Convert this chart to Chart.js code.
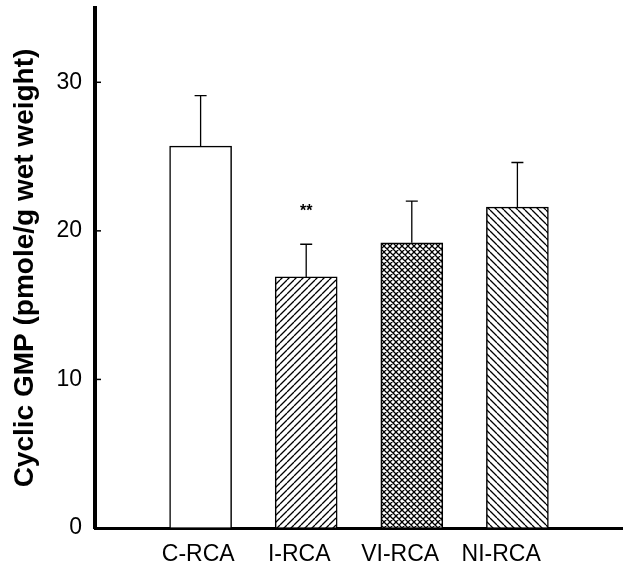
<!DOCTYPE html>
<html>
<head>
<meta charset="utf-8">
<script src="https://cdn.jsdelivr.net/npm/chart.js@4"></script>
<style>
html, body { margin: 0; padding: 0; background: #fff; }
#wrap { width: 623px; height: 564px; }
</style>
</head>
<body>
<div id="wrap"><canvas id="gmpChart"></canvas></div>
<script>
// Data
const groups = ['C-RCA', 'I-RCA', 'VI-RCA', 'NI-RCA'];
const groupPos = [1, 2, 3, 4];
const meanValues = [25.7, 16.9, 19.2, 21.6];
const errorTops = [29.1, 19.1, 22.0, 24.6];
const marks = ['', '**', '', ''];
const yTicks = [0, 10, 20, 30];

Chart.defaults.font.family = "'Liberation Sans', Arial, Helvetica, sans-serif";
Chart.defaults.color = '#000';

// hatch fills: 'fwd' = ////, 'back' = \\\\, 'cross' = both
function hatch(kind, s) {
    const c = document.createElement('canvas');
    c.width = s; c.height = s;
    const g = c.getContext('2d');
    g.fillStyle = '#fff';
    g.fillRect(0, 0, s, s);
    g.strokeStyle = '#000';
    g.lineWidth = 1.3;
    g.beginPath();
    for (const k of [-s, 0, s]) {
        if (kind === 'fwd' || kind === 'cross') {
            g.moveTo(k, s); g.lineTo(k + s, 0);
        }
        if (kind === 'back' || kind === 'cross') {
            g.moveTo(k, 0); g.lineTo(k + s, s);
        }
    }
    g.stroke();
    return g.createPattern(c, 'repeat');
}

const fills = ['#fff', hatch('fwd', 7), hatch('cross', 6), hatch('back', 7)];

// upper error bars, "**" marks and inward y ticks
const extras = {
    id: 'extras',
    afterDatasetsDraw(chart) {
        const ctx = chart.ctx;
        const y = chart.scales.y;
        const bars = chart.getDatasetMeta(0).data;
        ctx.save();
        ctx.strokeStyle = '#000';
        ctx.lineWidth = 1.3;
        bars.forEach((bar, i) => {
            const top = y.getPixelForValue(errorTops[i]);
            ctx.beginPath();
            ctx.moveTo(bar.x, bar.y);
            ctx.lineTo(bar.x, top);
            ctx.moveTo(bar.x - 6, top);
            ctx.lineTo(bar.x + 6, top);
            ctx.stroke();
            if (marks[i]) {
                ctx.fillStyle = '#000';
                ctx.font = "bold 16px 'Liberation Sans', Arial, sans-serif";
                ctx.textAlign = 'center';
                ctx.textBaseline = 'middle';
                ctx.fillText(marks[i], bar.x, top - 33);
            }
        });
        ctx.lineWidth = 1.5;
        yTicks.forEach(v => {
            const py = y.getPixelForValue(v);
            ctx.beginPath();
            ctx.moveTo(chart.chartArea.left, py);
            ctx.lineTo(chart.chartArea.left + 6, py);
            ctx.stroke();
        });
        ctx.restore();
    }
};

const gmpChart = new Chart(document.getElementById('gmpChart'), {
    type: 'bar',
    data: {
        datasets: [{
            data: groupPos.map((p, i) => ({ x: p, y: meanValues[i] })),
            backgroundColor: fills,
            borderColor: '#000',
            borderWidth: 1.5,
            barThickness: 62
        }]
    },
    options: {
        responsive: true,
        maintainAspectRatio: false,
        animation: false,
        layout: { padding: { top: 8, right: 0, bottom: 0, left: 0 } },
        plugins: {
            legend: { display: false },
            tooltip: { enabled: false }
        },
        scales: {
            x: {
                type: 'linear',
                position: 'bottom',
                weight: 0,
                offset: false,
                min: 0,
                max: 5,
                grid: { display: true, offset: false, drawOnChartArea: false, drawTicks: false },
                border: { display: true, width: 3, color: '#000' },
                ticks: { display: false },
                afterFit: s => { s.height = 6; s.paddingLeft = 0; s.paddingRight = 0; }
            },
            x2: {
                type: 'linear',
                position: 'bottom',
                weight: 1,
                offset: false,
                min: -0.022,
                max: 5.206,
                grid: { display: false, offset: false, drawTicks: false },
                border: { display: false },
                afterBuildTicks: s => { s.ticks = groupPos.map(v => ({ value: v })); },
                ticks: {
                    callback: v => groups[groupPos.indexOf(v)] || '',
                    font: { size: 23 },
                    padding: 7,
                    maxRotation: 0,
                    autoSkip: false
                },
                afterFit: s => { s.height = 30; s.paddingLeft = 0; s.paddingRight = 0; }
            },
            y: {
                min: 0,
                max: 35,
                afterBuildTicks: s => { s.ticks = yTicks.map(v => ({ value: v })); },
                grid: { display: true, drawOnChartArea: false, drawTicks: false },
                border: { display: true, width: 4, color: '#000' },
                ticks: { font: { size: 23 }, padding: 13 },
                title: {
                    display: true,
                    text: 'Cyclic GMP (pmole/g wet weight)',
                    font: { size: 28, weight: 'bold' },
                    padding: { top: 8, bottom: 0 }
                },
                afterFit: s => { s.width = 95; s.paddingTop = 0; s.paddingBottom = 0; }
            }
        }
    },
    plugins: [extras]
});
</script>
</body>
</html>
